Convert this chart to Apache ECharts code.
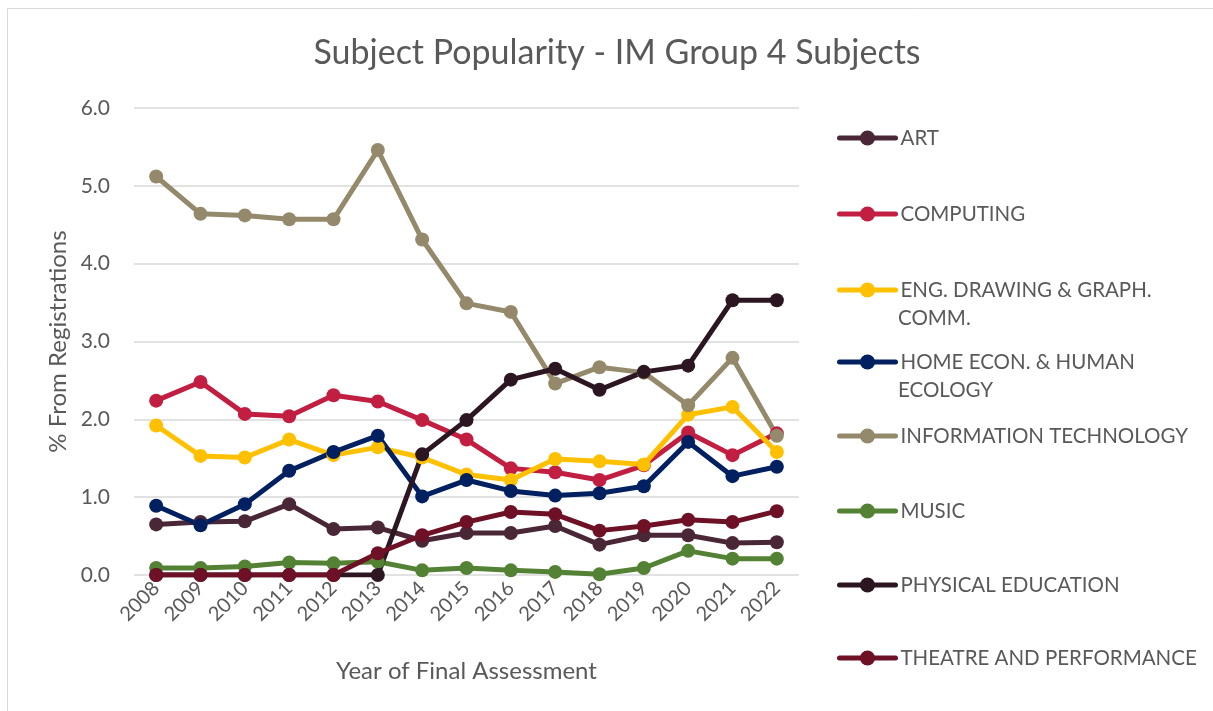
<!DOCTYPE html>
<html>
<head>
<meta charset="utf-8">
<script src="https://cdn.jsdelivr.net/npm/echarts@6/dist/echarts.min.js"></script>
<style>
  html, body { margin: 0; padding: 0; background: #fff; }
  #chart { width: 1213px; height: 711px; }
</style>
</head>
<body>
<div id="chart"></div>
<script>
// years on the x axis
var years = ['2008', '2009', '2010', '2011', '2012', '2013', '2014', '2015',
  '2016', '2017', '2018', '2019', '2020', '2021', '2022'];

// % from registrations
var art = [0.65, 0.68, 0.69, 0.91, 0.59, 0.61, 0.44, 0.54, 0.54, 0.63, 0.39, 0.51, 0.51, 0.41, 0.42];
var computing = [2.24, 2.48, 2.07, 2.04, 2.31, 2.23, 1.99, 1.74, 1.37, 1.32, 1.22, 1.41, 1.83, 1.54, 1.82];
var engDrawing = [1.92, 1.53, 1.51, 1.74, 1.54, 1.64, 1.51, 1.29, 1.22, 1.49, 1.46, 1.42, 2.06, 2.16, 1.58];
var homeEcon = [0.89, 0.64, 0.91, 1.34, 1.58, 1.79, 1.01, 1.22, 1.08, 1.02, 1.05, 1.14, 1.71, 1.27, 1.39];
var infoTech = [5.12, 4.64, 4.62, 4.57, 4.57, 5.46, 4.31, 3.49, 3.38, 2.46, 2.67, 2.60, 2.18, 2.79, 1.79];
var music = [0.09, 0.09, 0.11, 0.16, 0.15, 0.17, 0.06, 0.09, 0.06, 0.04, 0.01, 0.09, 0.31, 0.21, 0.21];
var physEd = [0, 0, 0, 0, 0, 0, 1.55, 1.99, 2.51, 2.65, 2.38, 2.61, 2.69, 3.53, 3.53];
var theatre = [0, 0, 0, 0, 0, 0.28, 0.51, 0.68, 0.81, 0.78, 0.57, 0.63, 0.71, 0.68, 0.82];

var yTicks = [0, 1, 2, 3, 4, 5, 6];

var names = ['ART', 'COMPUTING', 'ENG. DRAWING & GRAPH. COMM.', 'HOME ECON. & HUMAN ECOLOGY',
  'INFORMATION TECHNOLOGY', 'MUSIC', 'PHYSICAL EDUCATION', 'THEATRE AND PERFORMANCE'];
// legend is wrapped like Excel does: first line next to the marker, rest below
var legendLine1 = ['ART', 'COMPUTING', 'ENG. DRAWING & GRAPH.', 'HOME ECON. & HUMAN',
  'INFORMATION TECHNOLOGY', 'MUSIC', 'PHYSICAL EDUCATION', 'THEATRE AND PERFORMANCE'];
var legendLine2 = ['', '', 'COMM.', 'ECOLOGY', '', '', '', ''];
var allData = [art, computing, engDrawing, homeEcon, infoTech, music, physEd, theatre];
var colors = ['#4a2737', '#c21e41', '#ffc000', '#002060', '#948a6b', '#548235', '#2c1622', '#6f1126'];

// layout of the legend rows (marker centre y)
var legendY = [138, 214, 290, 362, 436, 511, 585, 658];

var font = 'Lato, "Open Sans", sans-serif';
var grey = '#595959';
var legendFont = 20.5;

var myChart = echarts.init(document.getElementById('chart'));

var series = [];
var legends = [];
var graphics = [{
  type: 'rect',
  shape: { x: 7.5, y: 8.5, width: 1220, height: 720 },
  style: { fill: 'none', stroke: '#d9d9d9', lineWidth: 1 },
  silent: true
}];
for (var i = 0; i < names.length; i++) {
  series.push({
    name: names[i],
    type: 'line',
    data: allData[i],
    symbol: 'circle',
    symbolSize: 14,
    lineStyle: { width: 5, color: colors[i] },
    itemStyle: { color: colors[i] },
    emphasis: { disabled: true },
    animation: false
  });
  legends.push({
    data: [names[i]],
    left: 832,
    top: legendY[i] - 19,
    itemWidth: 56,
    itemHeight: 19,
    selectedMode: false,
    lineStyle: { width: 5, cap: 'round' },
    formatter: (function (t) { return function () { return t; }; })(legendLine1[i]),
    textStyle: { color: grey, fontSize: legendFont, fontFamily: font, lineHeight: 28 }
  });
  if (legendLine2[i]) {
    graphics.push({
      type: 'text',
      silent: true,
      style: {
        x: 898, y: legendY[i] + 28,
        text: legendLine2[i],
        fill: grey,
        font: legendFont + 'px ' + font,
        verticalAlign: 'middle'
      }
    });
  }
}

var option = {
  backgroundColor: '#fff',
  color: colors,
  title: {
    text: 'Subject Popularity - IM Group 4 Subjects',
    left: 612,
    textAlign: 'center',
    top: 31,
    textStyle: { color: grey, fontSize: 34, fontWeight: 'normal', fontFamily: font }
  },
  graphic: graphics,
  legend: legends,
  grid: { left: 134, right: 414, top: 108, bottom: 136 },
  xAxis: {
    type: 'category',
    data: years,
    boundaryGap: true,
    name: 'Year of Final Assessment',
    nameLocation: 'middle',
    nameGap: 84,
    nameTextStyle: { color: grey, fontSize: 24, fontFamily: font },
    axisLine: { show: false },
    axisTick: { show: false },
    axisLabel: { rotate: 45, color: grey, fontSize: 20, fontFamily: font, margin: 10 }
  },
  yAxis: {
    type: 'value',
    min: yTicks[0],
    max: yTicks[yTicks.length - 1],
    interval: 1,
    name: '% From Registrations',
    nameLocation: 'middle',
    nameGap: 64,
    nameTextStyle: { color: grey, fontSize: 24, fontFamily: font },
    axisLine: { show: false },
    axisTick: { show: false },
    axisLabel: {
      color: grey, fontSize: 21, fontFamily: font, margin: 24,
      formatter: function (v) { return v.toFixed(1); }
    },
    splitLine: { lineStyle: { color: '#d9d9d9', width: 1.5 } }
  },
  series: series
};

myChart.setOption(option);
</script>
</body>
</html>
